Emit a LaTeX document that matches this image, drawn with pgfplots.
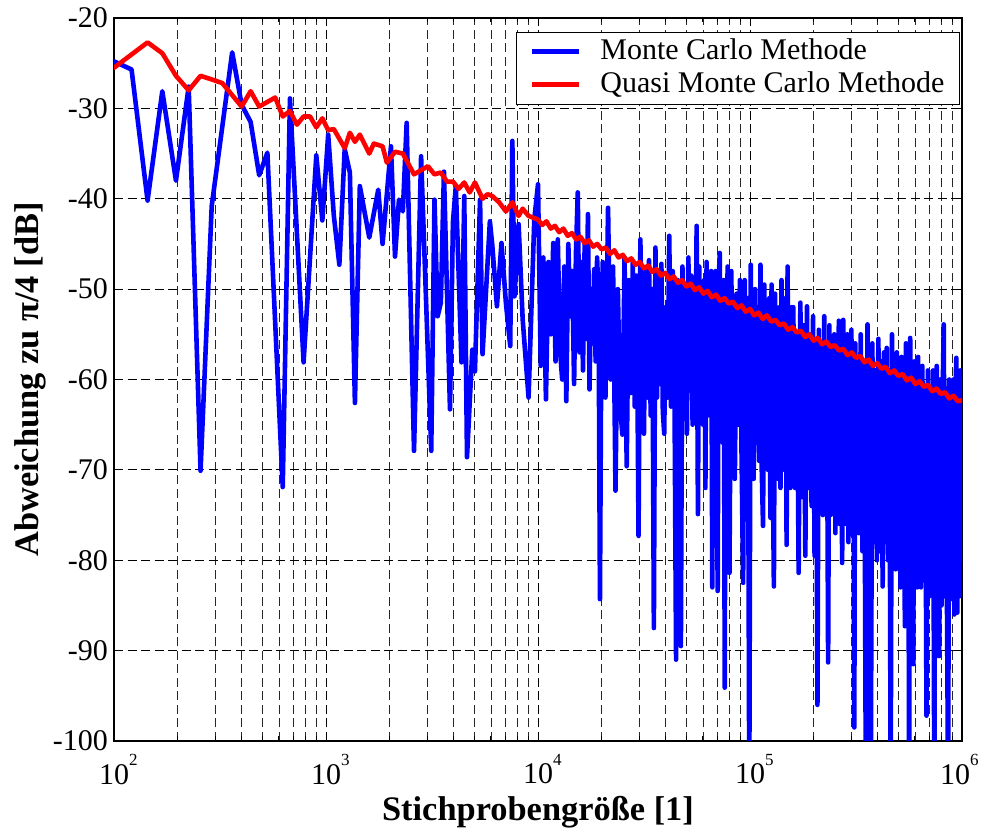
\documentclass[border=0pt]{standalone}
\usepackage{fontspec}
\setmainfont{Liberation Serif}
\usepackage{pgfplots}
\pgfplotsset{compat=1.18}
\newcommand{\dec}[1]{10\rlap{\raisebox{0.62em}{\fontsize{17bp}{17bp}\selectfont #1}}}
\newcommand{\decr}[1]{\hspace*{-7bp}10\rlap{\raisebox{0.62em}{\fontsize{17bp}{17bp}\selectfont #1}}\hspace*{7bp}}
\begin{document}
\begin{tikzpicture}
\useasboundingbox (0,0) rectangle (981bp,830bp);
\begin{axis}[
  at={(114bp,89bp)}, anchor=south west,
  scale only axis, width=848bp, height=723bp,
  xmode=log, xmin=100, xmax=1000000, ymin=-100, ymax=-20,
  xtick={100,1000,10000,100000,1000000},
  xticklabels={\dec{2},\dec{3},\dec{4},\dec{5},\decr{6}},
  minor xtick={200,300,400,500,600,700,800,900,2000,3000,4000,5000,6000,7000,8000,9000,20000,30000,40000,50000,60000,70000,80000,90000,200000,300000,400000,500000,600000,700000,800000,900000},
  ytick={-100,-90,-80,-70,-60,-50,-40,-30,-20},
  yticklabels={-100,-90,-80,-70,-60,-50,-40,-30,-20},
  xtick pos=both, ytick pos=both,
  xticklabel pos=lower, yticklabel pos=left,
  tick align=inside,
  major tick length=8bp, minor tick length=4.5bp,
  tick style={black, line width=1bp},
  axis line style={black, line width=1.3bp},
  xmajorgrids, xminorgrids, ymajorgrids,
  major grid style={black, dash pattern=on 9bp off 4.5bp, line width=0.9bp},
  minor grid style={black!85, dash pattern=on 9bp off 4.5bp, line width=0.9bp},
  xticklabel style={font=\fontsize{30bp}{30bp}\selectfont, inner sep=0bp, anchor=north, yshift=-13bp},
  yticklabel style={font=\fontsize{30bp}{30bp}\selectfont, inner sep=0bp, anchor=east, xshift=-6bp},
  xlabel={Stichprobengröße [1]},
  ylabel={Abweichung zu π/4 [dB]},
  xlabel style={at={(axis description cs:0.5,-0.098)}, anchor=center, font=\fontsize{34.4bp}{36bp}\selectfont\bfseries},
  ylabel style={at={(axis description cs:-0.0985,0.5)}, anchor=center, font=\fontsize{34.4bp}{36bp}\selectfont\bfseries},
  legend cell align=left,
  legend image code/.code={\draw[#1, line cap=butt] (0bp,0bp) -- (47bp,0bp);},
  legend style={at={(axis description cs:0.9976,0.9813)}, anchor=north east, draw=black, line width=1bp, fill=white,
    font=\fontsize{30bp}{30bp}\selectfont, inner xsep=13bp, inner ysep=3bp, row sep=0bp, column sep=17bp,
    nodes={inner sep=2bp, text height=22bp, text depth=7bp}},
]
\addplot[blue, line width=4.6bp, line join=round, line cap=round] coordinates {
(100,-24.8)(121,-25.7)(144,-40.2)(169,-28.1)(196,-38.0)(225,-27.6)(256,-70.1)(289,-40.8)(361,-23.8)(400,-29.6)(441,-31.5)(484,-37.4)(529,-34.9)(625,-71.9)(676,-28.9)(784,-58.1)(900,-35.2)(961,-42.4)(1024,-32.9)(1089,-41.9)(1156,-47.3)(1225,-34.5)(1296,-37.1)(1369,-62.6)(1444,-38.6)(1600,-44.3)(1764,-39.0)(1849,-45.0)(2025,-34.2)(2116,-46.4)(2209,-40.1)(2304,-41.4)(2401,-31.6)(2601,-67.9)(2809,-35.3)(3136,-67.9)(3249,-40.1)(3364,-53.0)(3481,-51.5)(3600,-37.0)(3844,-63.3)(3969,-42.6)(4096,-38.6)(4356,-58.1)(4489,-39.7)(4624,-68.6)(4900,-56.7)(5041,-59.1)(5329,-40.1)(5476,-57.2)(5929,-42.5)(6084,-45.1)(6400,-51.9)(6724,-44.9)(7056,-51.5)(7396,-56.3)(7569,-33.6)(7744,-50.8)(8100,-42.8)(8464,-53.3)(9025,-62.0)(9604,-42.3)
(10000,-38.4)(10300,-58.5)(10600,-46.5)(10900,-62.2)(11200,-47.0)(11500,-55.0)(11800,-44.9)(12100,-58.0)(12400,-44.5)(12700,-56.7)(13000,-60.0)(13300,-47.5)(13600,-62.4)(13900,-45.0)(14200,-53.0)(14500,-48.0)(14800,-60.5)(15100,-46.0)(15400,-39.3)(15700,-57.0)(16000,-47.0)(16300,-59.0)(16600,-45.0)(16900,-55.5)(17200,-41.7)(17500,-61.1)(17800,-50.0)(18100,-56.0)(18400,-47.8)(18700,-58.0)(19000,-46.5)(19300,-51.0)(19600,-84.3)(19900,-55.0)
(20200,-47.0)(20800,-62.0)(21400,-41.0)(22000,-60.0)(22600,-47.5)(23200,-72.3)(23800,-50.0)(24400,-63.0)(25000,-66.1)(25600,-46.5)(26200,-69.6)(26800,-49.0)(27400,-61.5)(28000,-47.0)(28600,-63.0)(29200,-48.5)(29800,-77.3)(30400,-44.5)(31000,-60.5)(31600,-66.0)(32200,-48.0)(32800,-62.0)(33400,-46.8)(34000,-64.0)(34600,-50.0)(35200,-87.5)(35800,-45.4)(36400,-62.0)(37000,-48.0)(37600,-60.5)(38200,-47.2)(38800,-63.5)(39400,-66.0)
(40000,-52.0)(40800,-62)(41600,-44.1)(42400,-63)(43200,-48)(44000,-60)(44800,-91)(45600,-49)(46400,-64)(47200,-89.5)(48000,-47.5)(48800,-62)(49600,-50)(50400,-66)(51200,-46.5)(52000,-61)(52800,-48.5)(53600,-65)(54400,-49)(55200,-62)(56000,-43.0)(56800,-74.9)(57600,-47.5)(58400,-63)(59200,-50)(60000,-65)(60800,-49)(61600,-72)(62400,-47)(63200,-63)(64000,-51)(64800,-64)(65600,-48)(66400,-83)(67200,-50)(68000,-62)(68800,-48)(69600,-66)(70400,-83.4)(71200,-49)(72000,-46)(72800,-64)(73600,-50.5)(74400,-67)(75200,-49)(76000,-94.1)(76800,-50)(77600,-63)(78400,-47.5)(79200,-67)
(80000,-81.4)(81600,-48)(83200,-66)(84800,-71)(86400,-50.5)(88000,-65)(89600,-49)(91200,-68)(92800,-82.5)(94400,-49)(96000,-67)(97600,-51)(99200,-106)(100800,-47.3)(102400,-68)(104000,-71)(105600,-50)(107200,-67)(108800,-52)(110400,-69)(112000,-47.3)(113600,-70)(115200,-76.2)(116800,-49.5)(118400,-68)(120000,-52)(121600,-70)(123200,-51)(124800,-75.3)(126400,-49.5)(128000,-69)(129600,-82.9)(131200,-50.5)(132800,-68)(134400,-53)(136000,-71)(137600,-52)(139200,-72)(140800,-49)(142400,-70)(144000,-53)(145600,-69)(147200,-51)(148800,-78.3)(150400,-47.5)(152000,-70)(153600,-53)(155200,-72)(156800,-52)(158400,-69)
(160000,-52)(163200,-72)(166400,-55)(169600,-81.4)(172800,-51.5)(176000,-73)(179200,-54)(182400,-79.5)(185600,-51.9)(188800,-72)(192000,-55)(195200,-74)(198400,-53)(201600,-79.5)(204800,-56)(208000,-96)(211200,-54.5)(214400,-74)(217600,-56)(220800,-75)(224000,-53)(227200,-72)(230400,-57)(233600,-91.3)(236800,-54)(240000,-75)(243200,-56)(246400,-74)(249600,-55)(252800,-77)(256000,-57)(259200,-73)(262400,-53.5)(265600,-76)(268800,-56)(272000,-80.3)(275200,-53.4)(278400,-74)(281600,-57)(284800,-76)(288000,-55)(291200,-78)(294400,-58)(297600,-75)(300800,-54.5)(304000,-77)(307200,-57)(310400,-98.5)(313600,-56)(316800,-76)
(320000,-58)(326400,-77)(332800,-55)(339200,-79)(345600,-58)(352000,-106)(358400,-53.9)(364800,-78)(371200,-106)(377600,-56)(384000,-78)(390400,-59)(396800,-80)(403200,-55.5)(409600,-79)(416000,-58)(422400,-82.9)(428800,-57)(435200,-78)(441600,-56.5)(448000,-80)(454400,-59)(460800,-106)(467200,-55)(473600,-79)(480000,-58)(486400,-81)(492800,-57)(499200,-78)(505600,-59)(512000,-83)(518400,-57.5)(524800,-80)(531200,-60)(537600,-87.3)(544000,-56)(550400,-79)(556800,-59)(563200,-106)(569600,-55.4)(576000,-82)(582400,-59)(588800,-91.5)(595200,-58)(601600,-80)(608000,-60)(614400,-83)(620800,-57.5)(627200,-81)(633600,-60)
(640000,-83)(650000,-58.5)(660000,-82)(670000,-61)(680000,-97.2)(690000,-59)(700000,-84)(710000,-62)(720000,-83)(730000,-59)(740000,-106)(750000,-61)(760000,-58.5)(770000,-84)(780000,-90.6)(790000,-60)(800000,-85)(810000,-62)(820000,-53.9)(830000,-84)(840000,-61)(850000,-86)(860000,-106)(870000,-60)(880000,-83)(890000,-63)(900000,-84.3)(910000,-60)(920000,-86)(930000,-62)(940000,-57.6)(950000,-85.8)(960000,-61)(970000,-84)(980000,-59)(990000,-80)(1000000,-63.5)
};
\addlegendentry{Monte Carlo Methode}
\addplot[red, line width=4.6bp, line join=round, line cap=round] coordinates {
(100,-25.5)(144,-22.7)(169,-23.9)(196,-26.4)(225,-28.0)(256,-26.4)(289,-26.8)(324,-27.2)(400,-29.8)(441,-28.1)(484,-29.8)(576,-28.8)(625,-30.9)(676,-30.3)(729,-31.8)(784,-30.9)(841,-30.9)(900,-32.1)(961,-31.1)(1024,-32.4)(1089,-32.3)(1225,-34.4)(1296,-32.7)(1369,-33.7)(1444,-32.9)(1600,-35.0)(1681,-33.9)(1849,-34.2)(1936,-36.0)(2116,-34.8)(2304,-35.0)(2601,-37.3)(3025,-36.4)(3249,-37.3)(3481,-37.1)(3721,-38.1)(3969,-38.1)(4225,-38.9)(4489,-38.2)(4761,-39.3)(5041,-38.2)(5476,-40.0)(5776,-39.5)(6084,-39.7)(6561,-40.4)(7056,-41.4)(7569,-40.4)(8100,-41.9)(8464,-41.1)(9025,-41.9)
(10000,-42.3)(10470,-42.9)(10960,-42.5)(11480,-43.3)(12020,-43.0)(12590,-43.7)(13180,-43.3)(13800,-44.1)(14450,-43.8)(15140,-44.5)(15850,-44.2)(16600,-44.9)(17380,-44.6)(18200,-45.3)(19050,-45.0)(19950,-45.6)(20890,-45.4)(21880,-46.1)(22910,-45.7)(23990,-46.5)(25120,-46.2)(26300,-46.9)(27540,-46.6)(28840,-47.3)(30200,-47.0)(31620,-47.7)(33110,-47.4)(34670,-48.1)(36310,-47.8)(38020,-48.5)(39810,-48.2)(41690,-48.9)(43650,-48.6)(45710,-49.3)(47860,-49.0)(50120,-49.7)(52480,-49.4)(54950,-50.1)(57540,-49.8)(60260,-50.5)(63100,-50.2)(66070,-50.9)(69180,-50.6)(72440,-51.3)(75860,-51.0)(79430,-51.6)(83180,-51.4)(87100,-52.1)(91200,-51.8)(95500,-52.5)
(100000,-52.2)(104700,-52.9)(109600,-52.6)(114800,-53.3)(120200,-52.9)(125900,-53.6)(131800,-53.4)(138000,-54.0)(144500,-53.8)(151400,-54.5)(158500,-54.2)(166000,-54.8)(173800,-54.6)(182000,-55.3)(190500,-55.0)(199500,-55.7)(208900,-55.4)(218800,-56.1)(229100,-55.8)(239900,-56.4)(251200,-56.2)(263000,-56.8)(275400,-56.6)(288400,-57.3)(302000,-57.0)(316200,-57.6)(331100,-57.4)(346700,-58.1)(363100,-57.8)(380200,-58.5)(398100,-58.2)(416900,-58.8)(436500,-58.6)(457100,-59.3)(478600,-59.0)(501200,-59.6)(524800,-59.4)(549500,-60.1)(575400,-59.8)(602600,-60.5)(631000,-60.2)(660700,-60.8)(691800,-60.6)(724400,-61.3)(758600,-61.0)(794300,-61.6)(831800,-61.4)(871000,-62.1)(912000,-61.8)(955000,-62.4)(1000000,-62.3)
};
\addlegendentry{Quasi Monte Carlo Methode}
\end{axis}
\end{tikzpicture}
\end{document}
